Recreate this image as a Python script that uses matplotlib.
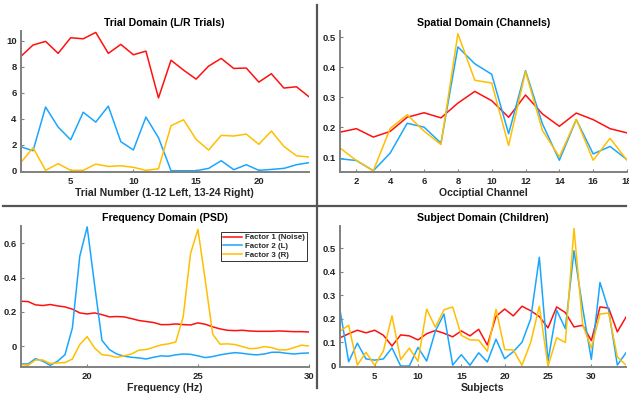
import numpy as np
import matplotlib
matplotlib.use("Agg")
import matplotlib.pyplot as plt
from matplotlib.lines import Line2D

plt.rcParams['font.family'] = ['Liberation Sans', 'DejaVu Sans']
plt.rcParams['font.weight'] = 'bold'

RED = '#ff1010'
BLUE = '#1aa6ff'
YELLOW = '#ffbf00'
SPINE = '#808080'
TEXT = '#262626'

# trial domain (24 trials)
trials = np.arange(1, 25)
trial_noise = [8.77, 9.67, 9.95, 9.03, 10.23, 10.15, 10.64, 9.03, 9.72, 8.92, 9.2, 5.6,
               8.5, 7.74, 7.05, 8.05, 8.64, 7.87, 7.9, 6.82, 7.46, 6.36, 6.46, 5.69]
trial_left = [1.85, 1.54, 4.9, 3.36, 2.38, 4.5, 3.74, 4.97, 2.23, 1.6, 4.13, 2.54,
              0.0, 0.0, 0.0, 0.18, 0.77, 0.08, 0.46, 0.03, 0.1, 0.18, 0.46, 0.62]
trial_right = [0.59, 1.77, 0.03, 0.54, 0.03, 0.03, 0.51, 0.33, 0.38, 0.26, 0.03, 0.15,
               3.46, 3.92, 2.41, 1.59, 2.72, 2.67, 2.82, 2.03, 3.05, 1.87, 1.15, 1.05]

# spatial domain (18 occipital channels)
channels = np.arange(1, 19)
chan_noise = [0.184, 0.196, 0.168, 0.187, 0.234, 0.249, 0.232, 0.281, 0.32,
              0.289, 0.234, 0.308, 0.245, 0.204, 0.248, 0.226, 0.196, 0.182]
chan_left = [0.096, 0.09, 0.056, 0.115, 0.214, 0.201, 0.148, 0.468, 0.412,
             0.377, 0.179, 0.389, 0.212, 0.091, 0.226, 0.112, 0.137, 0.093]
chan_right = [0.133, 0.09, 0.056, 0.197, 0.242, 0.188, 0.143, 0.512, 0.357,
              0.348, 0.14, 0.386, 0.19, 0.102, 0.227, 0.091, 0.164, 0.091]

# frequency domain, 17-30 Hz in 1/3 Hz bins
freqs = np.linspace(17, 30, 40)
psd_noise = [0.262, 0.26, 0.241, 0.237, 0.243, 0.235, 0.229, 0.216, 0.194, 0.188,
             0.194, 0.184, 0.171, 0.173, 0.171, 0.161, 0.15, 0.144, 0.138, 0.126,
             0.126, 0.13, 0.126, 0.124, 0.136, 0.128, 0.113, 0.101, 0.093, 0.091,
             0.093, 0.089, 0.087, 0.087, 0.087, 0.089, 0.087, 0.085, 0.085, 0.083]
psd_left = [-0.103, -0.103, -0.072, -0.087, -0.111, -0.087, -0.049, 0.107, 0.524, 0.695,
            0.359, 0.035, -0.019, -0.045, -0.058, -0.064, -0.068, -0.074, -0.064, -0.056,
            -0.058, -0.05, -0.045, -0.047, -0.056, -0.066, -0.06, -0.05, -0.043, -0.037,
            -0.041, -0.047, -0.05, -0.045, -0.035, -0.035, -0.041, -0.045, -0.041, -0.039]
psd_right = [-0.107, -0.111, -0.08, -0.08, -0.101, -0.097, -0.095, -0.074, 0.01, 0.056,
             -0.01, -0.049, -0.054, -0.064, -0.056, -0.045, -0.023, -0.019, -0.006, 0.008,
             0.014, 0.025, 0.17, 0.54, 0.68, 0.382, 0.07, 0.012, 0.014, 0.01,
             -0.002, -0.014, -0.012, -0.002, -0.008, -0.021, -0.021, -0.008, 0.006, 0.002]

# subject domain (34 children)
subjects = np.arange(1, 35)
subj_noise = [0.12, 0.137, 0.152, 0.141, 0.152, 0.131, 0.085, 0.132, 0.128, 0.111,
              0.137, 0.151, 0.139, 0.124, 0.149, 0.128, 0.156, 0.089, 0.211, 0.242,
              0.213, 0.254, 0.235, 0.21, 0.162, 0.251, 0.227, 0.166, 0.173, 0.108,
              0.251, 0.246, 0.145, 0.208]
subj_left = [0.239, 0.018, 0.097, 0.03, 0.025, 0.03, 0.077, 0.0, 0.0, 0.079,
             0.021, 0.148, 0.221, 0.004, 0.048, 0.003, 0.056, 0.017, 0.114, 0.031,
             0.061, 0.101, 0.2, 0.462, 0.021, 0.237, 0.159, 0.49, 0.246, 0.028,
             0.355, 0.237, 0.004, 0.056]
subj_right = [0.148, 0.173, 0.004, 0.058, 0.003, 0.063, 0.213, 0.027, 0.076, 0.02,
              0.242, 0.165, 0.239, 0.251, 0.13, 0.111, 0.11, 0.063, 0.241, 0.07,
              0.068, 0.003, 0.1, 0.254, 0.0, 0.12, 0.1, 0.585, 0.176, 0.076,
              0.221, 0.225, 0.039, 0.004]

labels = ['Factor 1 (Noise)', 'Factor 2 (L)', 'Factor 3 (R)']

W, H = 629, 399
fig = plt.figure(figsize=(W / 100, H / 100), dpi=100)


def add_axes(left, right, top, bottom):
    # pixel box -> figure fraction
    return fig.add_axes([left / W, 1 - bottom / H, (right - left) / W, (bottom - top) / H])


def style(ax, title, xlabel):
    for s in ('top', 'right'):
        ax.spines[s].set_visible(False)
    for s in ('left', 'bottom'):
        ax.spines[s].set_color(SPINE)
        ax.spines[s].set_linewidth(1.4)
    ax.tick_params(direction='in', length=2, width=0.8, color=SPINE,
                   labelsize=6.8, labelcolor=TEXT)
    ax.tick_params(axis='x', pad=4)
    ax.tick_params(axis='y', pad=2.8)
    for lab in ax.get_xticklabels() + ax.get_yticklabels():
        lab.set_fontweight('bold')
    ax.set_title(title, fontsize=7.6, fontweight='bold', color='black', pad=3.5)
    ax.set_xlabel(xlabel, fontsize=7.6, fontweight='bold', color=TEXT, labelpad=1.2)


def draw(ax, x, series):
    for y, c in zip(series, (RED, BLUE, YELLOW)):
        ax.plot(x, y, color=c, lw=1.1)


ax1 = add_axes(20.5, 309, 31, 171.5)
draw(ax1, trials, (trial_noise, trial_left, trial_right))
ax1.set_xlim(1, 24)
ax1.set_ylim(-0.06, 10.75)
ax1.set_xticks([5, 10, 15, 20])
ax1.set_yticks([0, 2, 4, 6, 8, 10])
style(ax1, 'Trial Domain (L/R Trials)', 'Trial Number (1-12 Left, 13-24 Right)')

ax2 = add_axes(339.5, 627, 31, 171.5)
draw(ax2, channels, (chan_noise, chan_left, chan_right))
ax2.set_xlim(1, 18)
ax2.set_ylim(0.0535, 0.521)
ax2.set_xticks(range(2, 19, 2))
ax2.set_yticks([0.1, 0.2, 0.3, 0.4, 0.5])
style(ax2, 'Spatial Domain (Channels)', 'Occiptial Channel')

ax3 = add_axes(20.7, 308.7, 226, 366.7)
draw(ax3, freqs, (psd_noise, psd_left, psd_right))
ax3.set_xlim(17, 30)
ax3.set_ylim(-0.119, 0.70)
ax3.set_xticks([20, 25, 30])
ax3.set_yticks([0, 0.2, 0.4, 0.6])
ax3.set_yticklabels(['0', '0.2', '0.4', '0.6'])
style(ax3, 'Frequency Domain (PSD)', 'Frequency (Hz)')
handles = [Line2D([], [], color=c, lw=1.1) for c in (RED, BLUE, YELLOW)]
leg = ax3.legend(handles, labels, loc='upper right', bbox_to_anchor=(0.993, 0.959),
                 borderaxespad=0, fontsize=5.7, frameon=True, fancybox=False,
                 handlelength=2.4, handletextpad=0.3, labelspacing=0.15,
                 borderpad=0.25)
leg.get_frame().set_edgecolor('black')
leg.get_frame().set_linewidth(0.7)
for t in leg.get_texts():
    t.set_fontweight('bold')
    t.set_color(TEXT)

ax4 = add_axes(340, 626, 226, 366.7)
draw(ax4, subjects, (subj_noise, subj_left, subj_right))
ax4.set_xlim(1, 34)
ax4.set_ylim(-0.003, 0.595)
ax4.set_xticks([5, 10, 15, 20, 25, 30])
ax4.set_yticks([0, 0.1, 0.2, 0.3, 0.4, 0.5])
ax4.set_yticklabels(['0', '0.1', '0.2', '0.3', '0.4', '0.5'])
style(ax4, 'Subject Domain (Children)', 'Subjects')

# panel dividers
fig.add_artist(Line2D([316.7 / W, 316.7 / W], [1 - 5 / H, 1 - 388 / H],
                      color='#555555', lw=1.6))
fig.add_artist(Line2D([3 / W, 626 / W], [1 - 206 / H, 1 - 206 / H],
                      color='#555555', lw=1.6))

fig.savefig('out.png', dpi=100)
